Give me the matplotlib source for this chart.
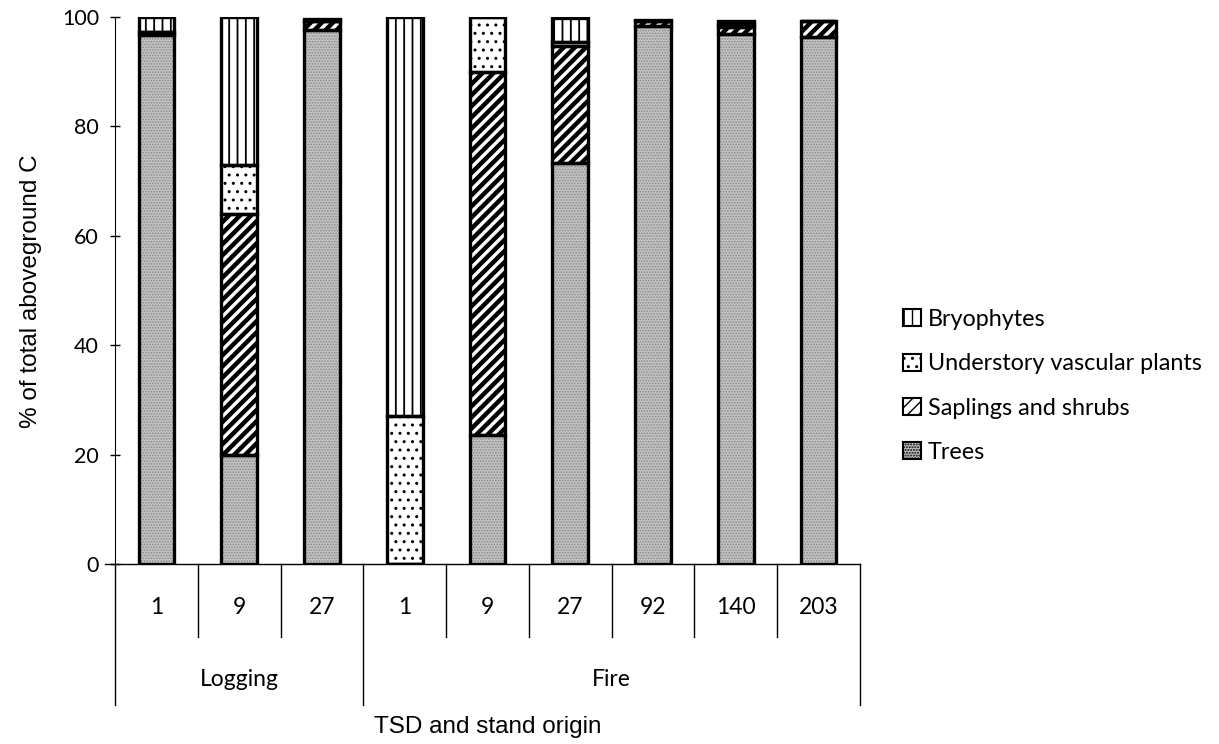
import matplotlib
matplotlib.use("Agg")
import matplotlib.pyplot as plt
from matplotlib.patches import Patch

# ---- data ----
tsd_labels = ["1", "9", "27", "1", "9", "27", "92", "140", "203"]
origin_labels = ["Logging", "Fire"]
origin_sizes = [3, 6]
series_names = ["Trees", "Saplings and shrubs", "Understory vascular plants", "Bryophytes"]
trees = [96.8, 20.0, 97.6, 0.0, 23.5, 73.3, 98.4, 96.9, 96.3]
saplings = [0.4, 44.0, 1.7, 0.0, 66.5, 21.4, 0.9, 1.3, 3.0]
understory = [0.0, 9.0, 0.0, 27.0, 10.0, 0.7, 0.0, 0.5, 0.0]
bryophytes = [2.8, 27.0, 0.3, 73.0, 0.0, 4.4, 0.1, 0.6, 0.0]
series_values = [trees, saplings, understory, bryophytes]

# ---- styles ----
styles = [
    dict(face="#c2c2c2", hatch="......", hcol="#8a8a8a", hlw=0.8),   # trees
    dict(face="white", hatch="///", hcol="black", hlw=3.2),          # saplings
    dict(face="white", hatch="..", hcol="black", hlw=1.0),           # understory
    dict(face="white", hatch="||", hcol="black", hlw=1.3),           # bryophytes
]

W, H = 1219, 744
fig = plt.figure(figsize=(W / 100, H / 100), dpi=100)
L, R, T, B = 115, 860, 17, 564
ax = fig.add_axes([L / W, 1 - B / H, (R - L) / W, (B - T) / H])

x = list(range(len(tsd_labels)))
bw = 0.43
bottom = [0.0] * len(x)
for vals, st in zip(series_values, styles):
    with plt.rc_context({"hatch.linewidth": st["hlw"]}):
        ax.bar(x, vals, bw, bottom=bottom, color=st["face"], edgecolor=st["hcol"],
               hatch=st["hatch"], linewidth=0, zorder=2)
    ax.bar(x, vals, bw, bottom=bottom, facecolor="none", edgecolor="black",
           linewidth=2.4, zorder=3)
    bottom = [b + v for b, v in zip(bottom, vals)]

ax.set_xlim(-0.5, len(x) - 0.5)
ax.set_ylim(0, 100)
ax.set_yticks([0, 20, 40, 60, 80, 100])
ax.set_yticklabels(["0", "20", "40", "60", "80", "100"], family="Lato", fontsize=15.5)
ax.tick_params(axis="y", direction="inout", length=7, width=1, pad=8)
ax.set_xticks([])
for s in ["top", "right", "bottom"]:
    ax.spines[s].set_visible(False)
ax.spines["left"].set_bounds(0, 100)

tr = ax.get_xaxis_transform()
y_inner = -(637 - B) / (B - T)
y_outer = -(705 - B) / (B - T)
# baseline at zero
ax.plot([-0.62, len(x) - 0.5], [0, 0], color="black", lw=1, transform=tr, clip_on=False, zorder=1)
# left spine extension
ax.plot([-0.5, -0.5], [0, y_outer], color="black", lw=1, transform=tr, clip_on=False)
# category separators
boundaries = []
acc = 0
for s in origin_sizes:
    acc += s
    boundaries.append(acc)
for i in range(1, len(x) + 1):
    xb = i - 0.5
    yb = y_outer if i in boundaries else y_inner
    ax.plot([xb, xb], [0, yb], color="black", lw=1, transform=tr, clip_on=False)

y_tick = -(608 - B) / (B - T)
for xi, lab in zip(x, tsd_labels):
    ax.text(xi, y_tick, lab, transform=tr, ha="center", va="center", family="Lato", fontsize=16.5)
y_grp = -(680 - B) / (B - T)
start = 0
for name, s in zip(origin_labels, origin_sizes):
    ax.text(start + (s - 1) / 2, y_grp, name, transform=tr, ha="center", va="center",
            family="Lato", fontsize=16.5)
    start += s

fig.text(488 / W, 1 - 727 / H, "TSD and stand origin", ha="center", va="center",
         family="Liberation Sans", fontsize=17.5)
fig.text(31 / W, 1 - 291 / H, "% of total aboveground C", ha="center", va="center",
         rotation=90, family="Liberation Sans", fontsize=17.5)

# legend
handles = []
for name, st in zip(series_names, styles):
    handles.append(Patch(facecolor=st["face"], edgecolor="black", hatch=st["hatch"], linewidth=1.5, label=name))
handles = handles[::-1]
ax.legend(handles=handles, loc="center left", bbox_to_anchor=(903 / W, 1 - 386 / H),
          bbox_transform=fig.transFigure, frameon=False, prop={"family": "Lato", "size": 16.8},
          handlelength=0.75, handleheight=0.75, handletextpad=0.3, labelspacing=1.0,
          borderpad=0, borderaxespad=0)

fig.savefig("out.png", dpi=100)
